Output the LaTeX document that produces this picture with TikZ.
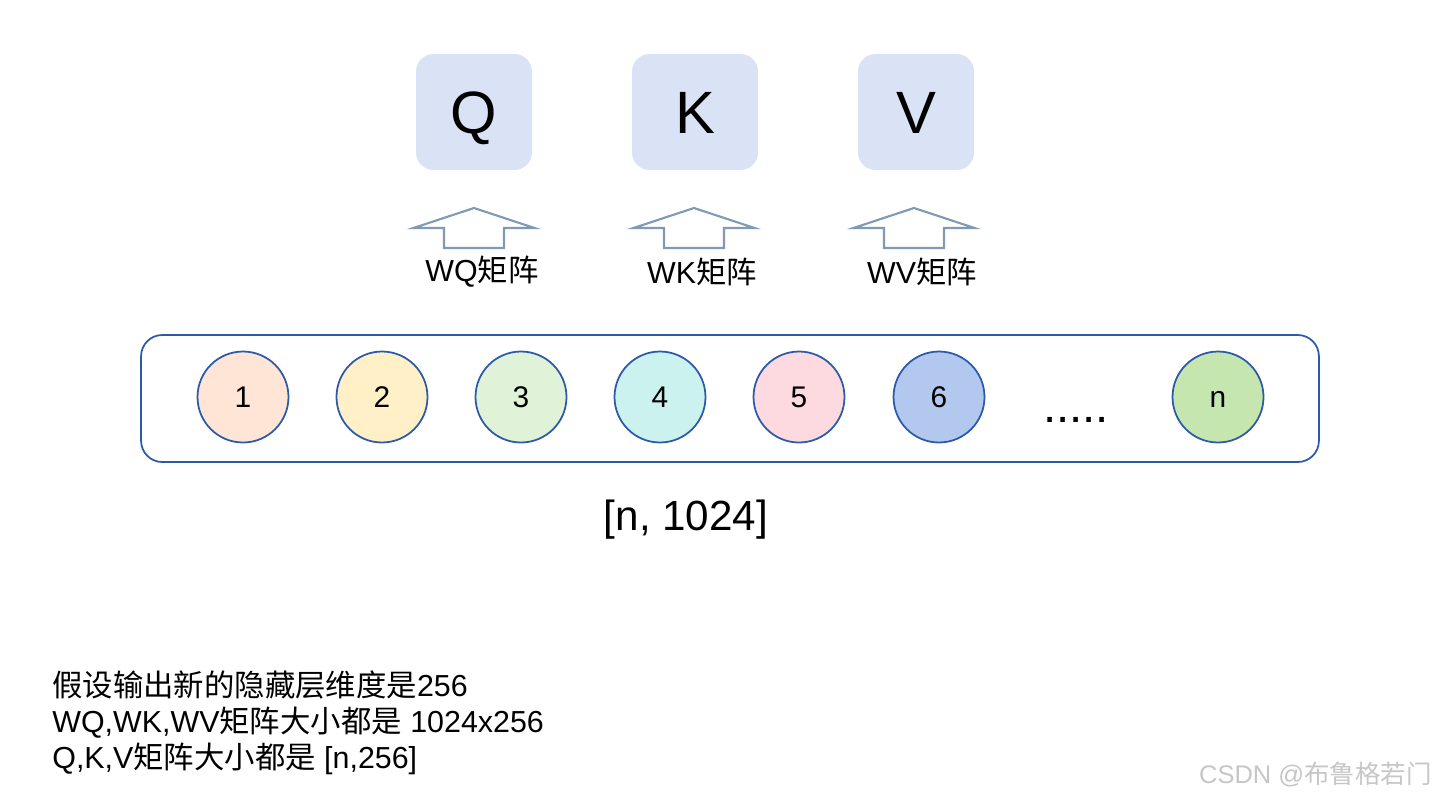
\documentclass[tikz,border=0pt]{standalone}
\usepackage{fontspec}
\setmainfont{Liberation Sans}
\newfontfamily\cjk{Noto Sans CJK SC}

\definecolor{qkvfill}{HTML}{DAE3F5}
\definecolor{tokenline}{HTML}{2C5AA8}
\definecolor{arrowline}{HTML}{8099B5}
\definecolor{tokA}{HTML}{FEE5D6}
\definecolor{tokB}{HTML}{FFF0C8}
\definecolor{tokC}{HTML}{E0F2D8}
\definecolor{tokD}{HTML}{CCF2F0}
\definecolor{tokE}{HTML}{FDDAE0}
\definecolor{tokF}{HTML}{B3C8EE}
\definecolor{tokN}{HTML}{C5E6AF}

\tikzset{
  qkvbox/.style={fill=qkvfill, rounded corners=10pt, minimum height=2.32cm,
    text height=24.3pt, text depth=0pt, font=\fontsize{34}{40}\selectfont},
  token/.style={circle, draw=tokenline, line width=1pt, minimum size=1.82cm,
    inner sep=0pt, text height=12.2pt, text depth=0pt,
    font=\fontsize{17}{20}\selectfont},
  uparrow/.style={draw=arrowline, line width=1.2pt, fill=white},
  lbl/.style={font=\fontsize{17.3}{20}\selectfont},
}

\begin{document}
\begin{tikzpicture}[x=0.02cm, y=-0.02cm]
\useasboundingbox (0,0) rectangle (1436,798);

% Q, K, V results
\node[qkvbox, minimum width=2.32cm] (q) at (474,112) {Q};
\node[qkvbox, minimum width=2.52cm] (k) at (695,112) {K};
\node[qkvbox, minimum width=2.32cm] (v) at (916,112) {V};

% weight matrices
\foreach \x/\m in {474/Q, 694/K, 914/V}{
  \draw[uparrow] (\x,208) -- ++(60.5,20) -- ++(-30.5,0) -- ++(0,20)
    -- ++(-60,0) -- ++(0,-20) -- ++(-30.5,0) -- cycle;
  \node[lbl] (w\m) at (\x+8,272) {W\m{\cjk 矩阵}};
}

% input sequence
\node[draw=tokenline, line width=1pt, rounded corners=12pt,
  minimum width=23.56cm, minimum height=2.54cm] (seq) at (730,398.5) {};
\foreach \i/\x/\c in {1/243/tokA, 2/382/tokB, 3/521/tokC, 4/660/tokD,
  5/799/tokE, 6/939/tokF, n/1218/tokN}
  \node[token, fill=\c] (t\i) at (\x,397) {\i};
\node[font=\fontsize{27}{30}\selectfont] (dots) at (1076,420) {.....};

\node[font=\fontsize{24}{28}\selectfont] (shape) at (686,520) {[n, 1024]};

% notes
\node[lbl, anchor=base west, inner sep=0pt] (note1) at (52,696)
  {{\cjk 假设输出新的隐藏层维度是}256};
\node[lbl, anchor=base west, inner sep=0pt] (note2) at (52,732)
  {WQ,WK,WV{\cjk 矩阵大小都是} 1024x256};
\node[lbl, anchor=base west, inner sep=0pt] (note3) at (52,768)
  {Q,K,V{\cjk 矩阵大小都是} [n,256]};

\node[font=\fontsize{14.5}{17}\selectfont, text=gray!45, anchor=base east,
  inner sep=0pt] (mark) at (1432,783) {CSDN @{\cjk 布鲁格若门}};
\end{tikzpicture}
\end{document}
